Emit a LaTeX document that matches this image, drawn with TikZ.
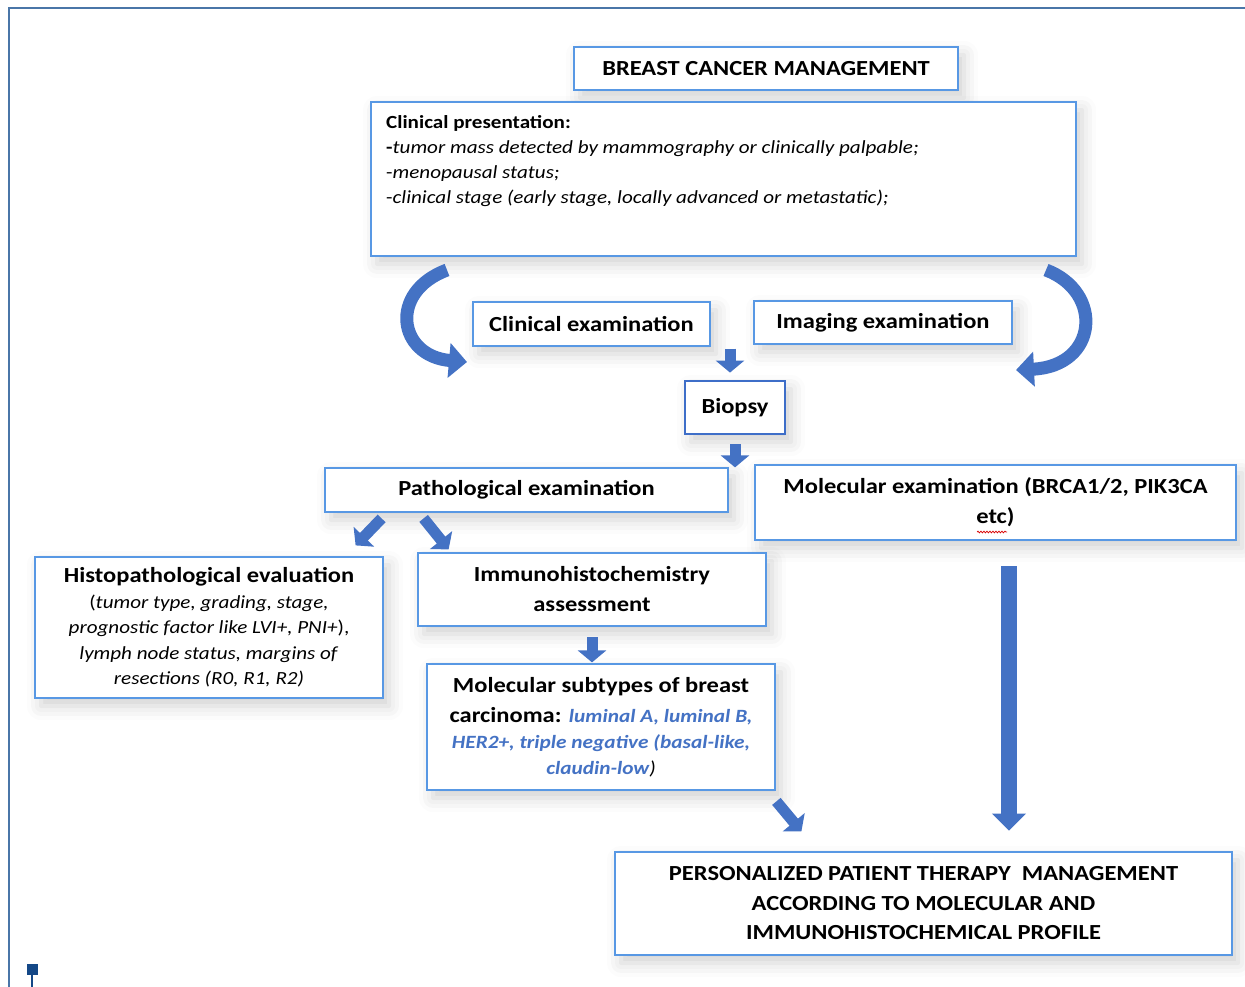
\documentclass[tikz,border=0pt]{standalone}
\usepackage{fontspec}
\setmainfont{Carlito}[FakeStretch=1.14]
\usetikzlibrary{arrows.meta,shadows.blur,decorations.pathmorphing}
\definecolor{boxblue}{RGB}{88,152,228}
\definecolor{biopsyblue}{RGB}{62,110,200}
\definecolor{arrblue}{RGB}{68,114,196}
\definecolor{framec}{RGB}{74,118,168}
\definecolor{markc}{RGB}{20,72,135}
\definecolor{txtblue}{RGB}{68,114,196}
\newcommand{\bluetxt}[1]{{\fontsize{18.7}{27}\selectfont\bfseries\itshape\color{txtblue}#1}}
\begin{document}
\begin{tikzpicture}[x=1pt,y=-1pt,
  box/.style={draw=boxblue, line width=2.8pt, fill=white, inner sep=3pt, align=center,
    blur shadow={shadow xshift=6pt, shadow yshift=-8pt, shadow blur radius=14pt, shadow opacity=18}},
  bf/.style={font=\fontsize{21.5}{30}\selectfont\bfseries},
  blockarrow/.style={arrblue, line width=11pt, -{Triangle[length=12pt,width=28pt]}},
  bigarrow/.style={arrblue, line width=16pt, -{Triangle[length=17pt,width=33pt]}},
  curvarrow/.style={arrblue, line width=13pt, -{Triangle[length=18pt,width=34pt]}}]
\useasboundingbox (0,0) rectangle (1245,987);
% outer frame
\draw[framec, line width=2pt] (9,987) -- (9,8) -- (1245,8);
\fill[markc] (27,964) rectangle (38,975);
\draw[markc, line width=2pt] (32,975) -- (32,987);

% boxes
\node[box, font=\fontsize{21.5}{26}\selectfont\bfseries, minimum width=384pt, minimum height=43pt] (title) at (766,68.5) {BREAST CANCER MANAGEMENT};
\node[box, minimum width=705pt, minimum height=154pt] (clinpres) at (723.5,179) {};
\node[anchor=north west, inner sep=0pt, align=left, font=\fontsize{18.5}{25}\selectfont] (clinprestext) at (386,115)
  {\textbf{Clinical presentation:}\\
   \textbf{-}\textit{tumor mass detected by mammography or clinically palpable;}\\
   -\textit{menopausal status;}\\
   -\textit{clinical stage (early stage, locally advanced or metastatic);}};
\node[box, bf, minimum width=237pt, minimum height=44pt] (clinexam) at (591.5,324) {Clinical examination};
\node[box, bf, minimum width=258pt, minimum height=43pt] (imgexam) at (883,322.5) {\raisebox{-1.5pt}{Imaging examination}};
\node[box, bf, draw=biopsyblue, minimum width=100pt, minimum height=53pt] (biopsy) at (735,407.5) {\raisebox{-2pt}{Biopsy}};
\node[box, bf, minimum width=403pt, minimum height=44pt] (patho) at (526.5,490) {Pathological examination};
\node[box, bf, minimum width=481pt, minimum height=75pt] (molexam) at (995.5,502.5)
  {Molecular examination (BRCA1/2, PIK3CA\\etc)};
\node[box, minimum width=348pt, minimum height=141pt, font=\fontsize{18.5}{25.5}\selectfont] (histo) at (209,627.5)
  {\textbf{\fontsize{21.5}{25.5}\selectfont Histopathological evaluation}\\
   (\textit{tumor type, grading, stage,}\\
   \textit{prognostic factor like LVI+, PNI+}),\\
   \textit{lymph node status, margins of}\\
   \textit{resections (R0, R1, R2)}};
\node[box, bf, minimum width=348pt, minimum height=73pt] (immuno) at (592,589.5)
  {Immunohistochemistry\\assessment};
\node[box, minimum width=348pt, minimum height=126pt, font=\fontsize{21.5}{27}\selectfont] (subtypes) at (601,727)
  {\textbf{Molecular subtypes of breast}\\[3pt]
   \textbf{carcinoma:} \bluetxt{luminal A, luminal B,}\\[-1pt]
   \bluetxt{HER2+, triple negative (basal-like,}\\[-1pt]
   \bluetxt{claudin-low}{\fontsize{18.7}{27}\selectfont\itshape )}};
\node[box, minimum width=617pt, minimum height=103pt, font=\fontsize{21.5}{29.5}\selectfont\bfseries] (person) at (923.5,903.5)
  {PERSONALIZED PATIENT THERAPY\ \ MANAGEMENT\\
   ACCORDING TO MOLECULAR AND\\
   IMMUNOHISTOCHEMICAL PROFILE};

% spell-check underline under "etc"
\draw[red!85!black, line width=0.7pt, decoration={snake, amplitude=0.9pt, segment length=3pt}, decorate]
  (977,532) -- (1007,532);

% curved arrows
\coordinate (cl1) at (447,270);
\coordinate (cl2) at (467,362);
\draw[curvarrow] (cl1) .. controls (388,292) and (398,356) .. (cl2);
\coordinate (cr1) at (1046,270);
\coordinate (cr2) at (1016,370);
\draw[curvarrow] (cr1) .. controls (1104,292) and (1098,366) .. (cr2);

% small block arrows
\draw[blockarrow] ($(biopsy.north)+(-5,-31)$) -- ($(biopsy.north)+(-5,-7)$);
\draw[blockarrow] ($(biopsy.south)+(0,9)$) -- ($(biopsy.south)+(0,32)$);
\draw[blockarrow] ($(patho.south west)+(58,5)$) -- ($(patho.south west)+(32,32)$);
\draw[blockarrow] ($(patho.south west)+(100,5)$) -- ($(patho.south west)+(125,36)$);
\draw[blockarrow] ($(immuno.south)+(0,10)$) -- ($(immuno.south)+(0,35)$);
\draw[blockarrow] ($(subtypes.south east)+(0,10)$) -- ($(subtypes.south east)+(25,40)$);
\draw[bigarrow] ($(molexam.south)+(13.5,25)$) -- ($(person.north)+(85.5,-20)$);
\end{tikzpicture}
\end{document}
